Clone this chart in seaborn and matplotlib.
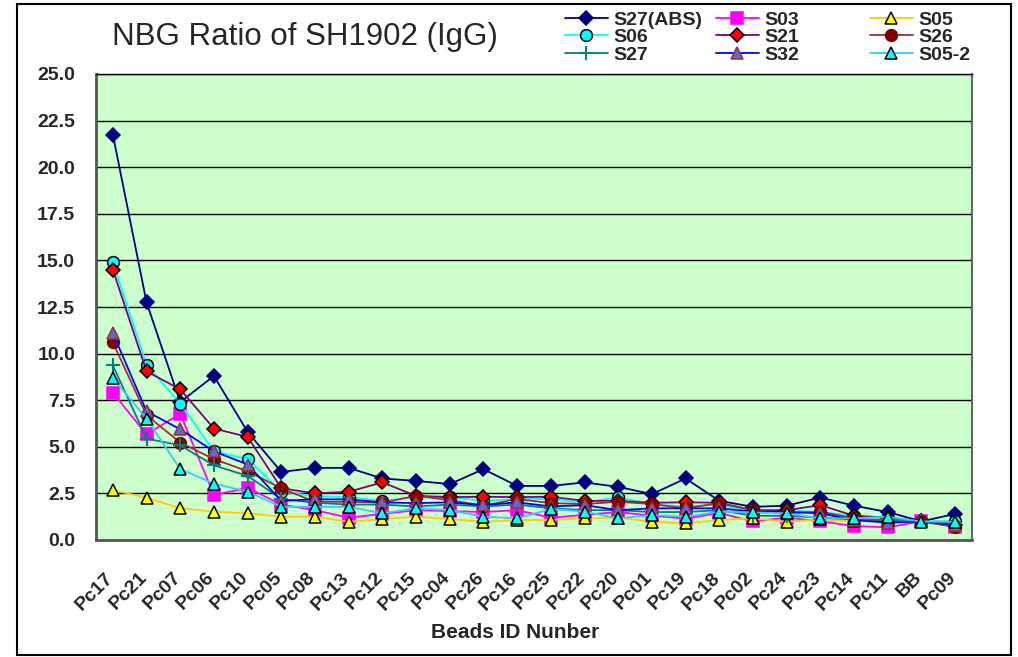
import numpy as np
import seaborn as sns
import matplotlib.pyplot as plt
import matplotlib.transforms as mtransforms
from matplotlib.patches import Rectangle
from matplotlib.lines import Line2D

# bead IDs along the x axis
cats = ['Pc17', 'Pc21', 'Pc07', 'Pc06', 'Pc10', 'Pc05', 'Pc08', 'Pc13', 'Pc12',
        'Pc15', 'Pc04', 'Pc26', 'Pc16', 'Pc25', 'Pc22', 'Pc20', 'Pc01', 'Pc19',
        'Pc18', 'Pc02', 'Pc24', 'Pc23', 'Pc14', 'Pc11', 'BB', 'Pc09']

# NBG ratios
s27_abs = [21.75, 12.75, 7.4, 8.8, 5.8, 3.65, 3.87, 3.87, 3.3, 3.17, 3.0, 3.8, 2.9,
           2.9, 3.09, 2.85, 2.46, 3.3, 2.1, 1.78, 1.84, 2.28, 1.84, 1.5, 1.0, 1.4]
s03 = [7.9, 5.66, 6.78, 2.41, 2.8, 1.9, 1.6, 1.2, 1.4, 1.6, 1.55, 1.5, 1.6,
       1.2, 1.35, 1.5, 1.3, 1.15, 1.45, 1.0, 1.2, 1.0, 0.75, 0.68, 1.0, 0.72]
s05 = [2.68, 2.27, 1.7, 1.52, 1.43, 1.25, 1.25, 0.98, 1.12, 1.25, 1.12, 0.98, 1.07,
       1.07, 1.16, 1.2, 0.98, 0.9, 1.07, 1.16, 0.98, 1.1, 1.0, 1.0, 1.0, 1.0]
s06 = [14.9, 9.4, 7.32, 4.76, 4.34, 2.6, 2.35, 2.3, 2.1, 2.3, 2.3, 2.1, 2.2,
       2.2, 2.0, 2.3, 1.9, 1.8, 1.9, 1.5, 1.6, 1.5, 1.3, 1.2, 1.0, 1.0]
s21 = [14.5, 9.05, 8.08, 5.98, 5.53, 2.78, 2.5, 2.59, 3.09, 2.37, 2.3, 2.32, 2.3,
       2.32, 2.1, 2.1, 2.0, 2.02, 2.0, 1.6, 1.6, 1.87, 1.3, 1.2, 1.0, 0.8]
s26 = [10.6, 6.69, 5.23, 4.34, 3.69, 2.77, 2.05, 2.05, 2.0, 2.37, 2.14, 1.84, 2.2,
       1.98, 1.93, 2.05, 1.93, 1.7, 1.98, 1.6, 1.43, 1.52, 1.16, 0.98, 1.0, 0.7]
s27 = [9.37, 5.44, 5.08, 4.0, 3.44, 2.2, 2.0, 1.9, 1.9, 1.8, 1.9, 1.8, 1.9,
       1.7, 1.6, 1.6, 1.5, 1.5, 1.6, 1.3, 1.3, 1.2, 1.1, 1.1, 1.0, 0.9]
s32 = [11.1, 6.9, 5.94, 4.76, 4.05, 2.1, 2.18, 2.18, 2.02, 1.98, 2.02, 1.87, 2.02,
       1.8, 1.87, 1.6, 1.7, 1.7, 1.7, 1.52, 1.52, 1.43, 1.07, 0.93, 1.0, 0.8]
s05_2 = [8.69, 6.51, 3.8, 3.03, 2.59, 1.78, 1.78, 1.78, 1.43, 1.7, 1.6, 1.25, 1.16,
         1.66, 1.52, 1.16, 1.34, 1.25, 1.52, 1.48, 1.43, 1.16, 1.16, 1.25, 0.98, 0.98]

# name, values, line colour, marker, face, edge, size
series = [
    ('S27(ABS)', s27_abs, '#000080', 'D', '#000080', '#000080', 7),
    ('S03', s03, '#FF00FF', 's', '#FF00FF', '#FF00FF', 8),
    ('S05', s05, '#FFCC00', '^', '#FFFF00', '#000000', 8.5),
    ('S06', s06, '#00FFFF', 'o', '#00FFFF', '#000000', 8.5),
    ('S21', s21, '#800080', 'D', '#FF0000', '#000000', 7),
    ('S26', s26, '#993333', 'o', '#800000', '#800000', 8.5),
    ('S27', s27, '#008080', '+', '#008080', '#008080', 10),
    ('S32', s32, '#0000FF', '^', '#6666CC', '#993333', 8.5),
    ('S05-2', s05_2, '#33CCFF', '^', '#00FFFF', '#000000', 8.5),
]

sns.set_style('white')
plt.rcParams['font.family'] = ['Liberation Sans', 'DejaVu Sans']

fig = plt.figure(figsize=(10.18, 6.57), dpi=100)
ax = fig.add_axes([96 / 1018, 117 / 657, 876 / 1018, 466 / 657])
pos = np.arange(len(cats))

handles = []
for name, vals, lc, mk, fc, ec, ms in series:
    kw = dict(color=lc, lw=1.3, marker=mk, markersize=ms, markerfacecolor=fc,
              markeredgecolor=ec, markeredgewidth=1.5 if mk == '+' else 1.1)
    sns.lineplot(x=pos, y=vals, ax=ax, legend=False, zorder=3, **kw)
    handles.append(Line2D([], [], **kw))

# plot area look
ax.set_facecolor('#CCFFCC')
ax.set_xlim(-0.5, len(cats) - 0.5)
ax.set_ylim(0, 25)
ax.set_yticks(np.arange(0, 25.01, 2.5))
ax.set_yticklabels([f'{v:.1f}' for v in np.arange(0, 25.01, 2.5)],
                   fontweight='bold', fontsize=14)
ax.grid(axis='y', color='black', lw=1)
ax.grid(axis='x', visible=False)
ax.set_axisbelow(True)
ax.tick_params(axis='y', length=0, pad=15)

ax.set_xticks(pos)
ax.set_xticklabels(cats, rotation=45, ha='right', rotation_mode='anchor',
                   fontweight='bold', fontsize=14)
ax.set_xticks(pos[:-1] + 0.5, minor=True)
ax.tick_params(axis='x', which='major', length=0, pad=21)
ax.tick_params(axis='x', which='minor', direction='in', length=6, width=1, color='#444444')
shift = mtransforms.ScaledTranslation(-8 / 100, 0, fig.dpi_scale_trans)
for lab in ax.get_xticklabels():
    lab.set_transform(lab.get_transform() + shift)

for side in ['left', 'bottom']:
    ax.spines[side].set_color('#555555')
    ax.spines[side].set_linewidth(2)
ax.spines['right'].set_color('#666666')
ax.spines['right'].set_linewidth(1.5)
ax.spines['top'].set_color('black')
ax.spines['top'].set_linewidth(1)

fig.text(112 / 1018, 1 - 37 / 657, 'NBG Ratio of SH1902 (IgG)', fontsize=22.5,
         ha='left', va='center')
fig.text(515 / 1018, 1 - 633 / 657, 'Beads ID Nunber', fontsize=15,
         fontweight='bold', ha='center', va='center')

# legend: three columns, rows filled left to right
labels = [s[0] for s in series]
for c, x0 in enumerate([565, 716, 870]):
    idx = [c, c + 3, c + 6]
    fig.legend([handles[i] for i in idx], [labels[i] for i in idx],
               loc='upper left', bbox_to_anchor=(x0 / 1018, 1 - 11 / 657),
               frameon=False, handlelength=2.2, handletextpad=0.3,
               labelspacing=0, borderpad=0, borderaxespad=0,
               prop={'weight': 'bold', 'size': 14})

fig.patches.append(Rectangle((17 / 1018, 2 / 657), 994 / 1018, 651 / 657,
                             transform=fig.transFigure, fill=False,
                             lw=1.5, ec='black'))

fig.savefig('out.png', dpi=100)
